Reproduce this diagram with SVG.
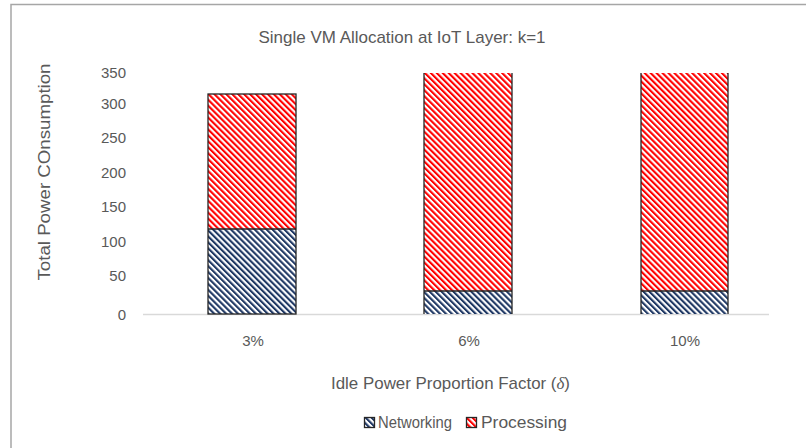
<svg xmlns="http://www.w3.org/2000/svg" width="806" height="448" viewBox="0 0 806 448">
<defs>
<pattern id="hRed" patternUnits="userSpaceOnUse" width="4.2" height="4.2" patternTransform="rotate(-45)">
<rect width="4.2" height="4.2" fill="#ffffff"/>
<rect width="2.1" height="4.2" fill="#ff0000"/>
</pattern>
<pattern id="hNavy" patternUnits="userSpaceOnUse" width="4.2" height="4.2" patternTransform="rotate(-45)">
<rect width="4.2" height="4.2" fill="#ffffff"/>
<rect width="2.1" height="4.2" fill="#1f3864"/>
</pattern>
<style>
text{font-family:"Liberation Sans",Arial,sans-serif;fill:#595959}
.tick{font-size:15px;text-anchor:end}
.cat{font-size:15px;text-anchor:middle}
.edge{stroke:#262626;stroke-width:1.3;fill:none}
</style>
</defs>
<rect width="806" height="448" fill="#ffffff"/>
<rect x="11" y="4.5" width="820" height="470" fill="none" stroke="#a6a6a6" stroke-width="1.5"/>
<text x="402" y="43" font-size="17" text-anchor="middle" textLength="287" lengthAdjust="spacingAndGlyphs">Single VM Allocation at IoT Layer: k=1</text>
<g id="yaxis">
<text class="tick" x="126" y="78">350</text>
<text class="tick" x="126" y="109">300</text>
<text class="tick" x="126" y="143">250</text>
<text class="tick" x="126" y="178">200</text>
<text class="tick" x="126" y="212">150</text>
<text class="tick" x="126" y="247">100</text>
<text class="tick" x="126" y="281">50</text>
<text class="tick" x="126" y="320">0</text>
<text transform="translate(50,172) rotate(-90)" font-size="16.5" text-anchor="middle" textLength="217" lengthAdjust="spacingAndGlyphs">Total Power COnsumption</text>
</g>
<line x1="143" y1="314.5" x2="769" y2="314.5" stroke="#d9d9d9" stroke-width="1.5"/>
<g id="bar1">
<rect x="208" y="94" width="88" height="135" fill="url(#hRed)"/>
<rect x="208" y="229" width="88" height="85" fill="url(#hNavy)"/>
<rect class="edge" x="208" y="94" width="88" height="220"/>
<line class="edge" x1="208" y1="229" x2="296" y2="229"/>
</g>
<g id="bar2">
<rect x="424" y="73" width="88" height="218" fill="url(#hRed)"/>
<rect x="424" y="291" width="88" height="23" fill="url(#hNavy)"/>
<path class="edge" d="M424,73 V314 M512,73 V314 M424,291 H512"/>
</g>
<g id="bar3">
<rect x="641" y="73" width="87" height="218" fill="url(#hRed)"/>
<rect x="641" y="291" width="87" height="23" fill="url(#hNavy)"/>
<path class="edge" d="M641,73 V314 M728,73 V314 M641,291 H728"/>
</g>
<g id="xaxis">
<text class="cat" x="253" y="346">3%</text>
<text class="cat" x="469" y="346">6%</text>
<text class="cat" x="685" y="346">10%</text>
<text x="331" y="389" font-size="17" textLength="239" lengthAdjust="spacingAndGlyphs">Idle Power Proportion Factor (<tspan font-style="italic" font-family="Liberation Serif, serif">δ</tspan>)</text>
</g>
<g id="legend">
<rect x="364.5" y="417.5" width="10" height="10" fill="url(#hNavy)" stroke="#262626" stroke-width="1.3"/>
<text x="378" y="428" font-size="16" textLength="74" lengthAdjust="spacingAndGlyphs">Networking</text>
<rect x="466.5" y="417.5" width="10" height="10" fill="url(#hRed)" stroke="#262626" stroke-width="1.3"/>
<text x="481" y="428" font-size="16" textLength="86" lengthAdjust="spacingAndGlyphs">Processing</text>
</g>
</svg>
